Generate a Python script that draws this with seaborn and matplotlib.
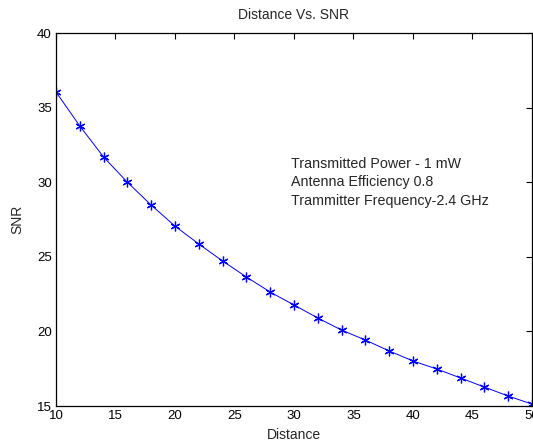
import matplotlib
matplotlib.use("Agg")
import matplotlib.pyplot as plt
import seaborn as sns
import pandas as pd

distance = [10, 12, 14, 16, 18, 20, 22, 24, 26, 28, 30, 32, 34, 36, 38, 40, 42, 44, 46, 48, 50]
snr = [36.05, 33.77, 31.69, 30.0, 28.47, 27.06, 25.86, 24.72, 23.65, 22.64, 21.77,
       20.9, 20.09, 19.42, 18.69, 18.02, 17.48, 16.88, 16.27, 15.67, 15.13]
x_ticks = [10, 15, 20, 25, 30, 35, 40, 45, 50]
y_ticks = [15, 20, 25, 30, 35, 40]
annotation = "Transmitted Power - 1 mW\nAntenna Efficiency 0.8\nTrammitter Frequency-2.4 GHz"

sns.set_style("white")
plt.rcParams['font.family'] = ['Liberation Sans', 'DejaVu Sans']

df = pd.DataFrame({"Distance": distance, "SNR": snr})
fig = plt.figure(figsize=(5.33, 4.43), dpi=100)
ax = fig.add_axes([0.105, 0.0835, 0.893, 0.842])
sns.lineplot(data=df, x="Distance", y="SNR", ax=ax, color="#0000ff", linewidth=0.7,
             marker=(6, 2, 0), markersize=7, markeredgecolor="#0000ff", markeredgewidth=0.9)
ax.set_xlim(10, 50)
ax.set_ylim(15, 40)
ax.set_xticks(x_ticks)
ax.set_yticks(y_ticks)
ax.tick_params(direction="in", length=4, width=0.8, top=True, right=True,
               labelsize=9.5, colors="black", pad=3)
for s in ax.spines.values():
    s.set_color("black")
    s.set_linewidth(0.9)
ax.set_title("Distance Vs. SNR", fontsize=10, pad=10)
ax.set_xlabel("Distance", fontsize=10, labelpad=4)
ax.set_ylabel("SNR", fontsize=10, labelpad=9)
ax.text(29.75, 31.7, annotation, fontsize=10.3, va="top", ha="left", linespacing=1.4)
fig.savefig("out.png", dpi=100)
